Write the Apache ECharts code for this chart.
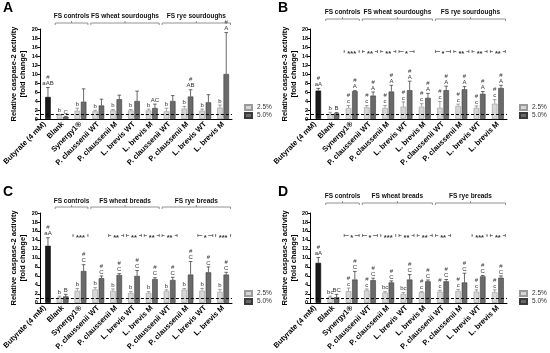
<!DOCTYPE html>
<html><head><meta charset="utf-8">
<script src="https://cdn.jsdelivr.net/npm/echarts@6/dist/echarts.min.js"></script>
<style>html,body{margin:0;padding:0;background:#fff}#c{width:550px;height:353px}</style>
</head><body><div id="c"></div>
<script>
// ---------- data ----------
const categories = ['Butyrate (4 mM)','Blank','Synergy1®','P. claussenii WT','P. claussenii M','L. brevis WT','L. brevis M','P. claussenii WT','P. claussenii M','L. brevis WT','L. brevis M'];
const groupSpans = [[1,2],[3,6],[7,10]];
const groupNamesSourdough = ['FS controls','FS wheat sourdoughs','FS rye sourdoughs'];
const groupNamesBread = ['FS controls','FS wheat breads','FS rye breads'];
const seriesNames = ['2.5%','5.0%'];

// Panel A: caspase-2, sourdoughs
const A25 = [null,0.9,1.85,1.7,1.9,1.9,1.9,1.7,2.3,1.85,2.5];
const A25err = [null,1.0,2.4,1.95,2.1,2.1,2.2,2.4,2.8,2.2,3.1];
const A50 = [4.9,0.5,3.85,3.0,4.4,4.0,2.45,4.0,5.0,3.7,10.0];
const A50err = [7.0,0.6,6.7,4.4,5.3,6.2,3.3,5.2,6.5,5.4,19.2];
const A25lab = ['','b','b','b','b','b','b','b','b','b','b'];
const A50lab = ['#\naAB','C','','','','','AC','','#\nAB','','#\nA'];
const Asig = ['','','','','','','','','','',''];

// Panel B: caspase-3, sourdoughs
const B25 = [null,1.1,2.45,2.6,2.45,2.75,2.75,2.5,2.9,2.5,3.4];
const B25err = [null,1.5,3.0,3.0,3.0,3.8,3.4,3.9,3.3,2.9,4.3];
const B50 = [6.3,1.25,6.2,5.2,6.1,6.4,4.7,6.4,6.6,5.6,6.9];
const B50err = [6.8,1.45,6.3,6.0,7.5,8.4,5.7,7.3,7.2,6.1,7.5];
const B25lab = ['','b','#\nc','#\nc','#\nc','#\nc','#\nc','#\nc','#\nc','#\nc','#\nc'];
const B50lab = ['#\naA','B','#\nA','#\nA','#\nA','#\nA','#\nA','#\nA','#\nA','#\nA','#\nA'];
const Bsig = ['','','***','**','**','*','','*','**','**','**'];

// Panel C: caspase-2, breads
const C25 = [null,1.2,2.7,3.0,2.65,2.2,2.2,2.65,2.95,2.7,2.45];
const C25err = [null,1.5,3.2,3.4,3.1,2.5,2.5,2.9,3.2,3.2,3.0];
const C50 = [12.7,1.45,7.1,5.5,6.2,6.0,5.3,5.1,6.3,6.8,6.3];
const C50err = [14.5,1.9,8.5,6.0,6.5,7.2,5.6,5.7,9.2,8.0,6.8];
const C25lab = ['','b','b','b','b','b','b','b','b','b','b'];
const C50lab = ['#\naA','B','#\nC','#\nC','#\nC','#\nC','#\nC','#\nC','#\nC','#\nC','#\nC'];
const Csig = ['','','***','','**','**','**','**','','*','***'];

// Panel D: caspase-3, breads
const D25 = [null,1.25,2.6,2.8,2.3,2.0,2.35,2.5,2.65,2.5,2.4];
const D25err = [null,1.5,3.3,3.1,2.5,2.3,2.5,2.8,3.0,2.9,2.9];
const D50 = [8.9,1.25,5.2,5.05,4.55,5.2,4.8,4.8,4.55,5.9,5.6];
const D50err = [10.1,1.9,7.0,5.5,4.9,6.3,5.1,5.2,6.6,6.1,6.0];
const D25lab = ['','bc','#\nc','#\nc','bc','bc','#\nc','#\nc','#\nc','#\nc','#\nc'];
const D50lab = ['#\naA','BC','#\nC','#\nC','#\nC','#\nC','#\nC','#\nC','#\nC','#\nC','#\nC'];
const Dsig = ['','','*','*','***','**','**','**','','***','**'];

const sigLevel = 15;
const controlLevel = 1;

// ---------- styling / layout ----------
const FONT = 'Liberation Sans';
const C_LIGHT = '#d6d6d6', C_LIGHT_B = '#9a9a9a';
const C_DARK = '#6a6a6a', C_DARK_B = '#3a3a3a';
const C_BUT = '#1b1b1b';

const panels = [
  {letter:'A', yName:'Relative caspase-2 activity\n[fold change]', grid:{left:31, top:29, width:201, height:90},
   groups:groupNamesSourdough, bOff:6, tOff:13, legendTop:104, legendLeft:244,
   v25:A25, e25:A25err, v50:A50, e50:A50err, l25:A25lab, l50:A50lab, sig:Asig},
  {letter:'B', yName:'Relative caspase-3 activity\n[fold change]', grid:{left:306, top:29, width:201, height:90},
   groups:groupNamesSourdough, bOff:10, tOff:17, legendTop:104, legendLeft:519,
   v25:B25, e25:B25err, v50:B50, e50:B50err, l25:B25lab, l50:B50lab, sig:Bsig},
  {letter:'C', yName:'Relative caspase-2 activity\n[fold change]', grid:{left:31, top:213, width:201, height:91},
   groups:groupNamesBread, bOff:6, tOff:12, legendTop:290, legendLeft:244,
   v25:C25, e25:C25err, v50:C50, e50:C50err, l25:C25lab, l50:C50lab, sig:Csig},
  {letter:'D', yName:'Relative caspase-3 activity\n[fold change]', grid:{left:306, top:213, width:201, height:91},
   groups:groupNamesBread, bOff:10, tOff:17, legendTop:290, legendLeft:519,
   v25:D25, e25:D25err, v50:D50, e50:D50err, l25:D25lab, l50:D50lab, sig:Dsig}
];

const BAR_W = 5.5, HALF_OFF = 3.16;

function errRender(labels, side, color){
  return function(params, api){
    const idx = api.value(0), top = api.value(1), val = api.value(2);
    const pT = api.coord([idx, top]);
    const pV = api.coord([idx, val]);
    const x = pT[0] + side*HALF_OFF;
    const ch = [
      {type:'line', shape:{x1:x, y1:pV[1], x2:x, y2:pT[1]}, style:{stroke:color, lineWidth:0.8}},
      {type:'line', shape:{x1:x-1.8, y1:pT[1], x2:x+1.8, y2:pT[1]}, style:{stroke:color, lineWidth:0.8}}
    ];
    const lab = labels[idx];
    if (lab) ch.push({type:'text', x:x, y:pT[1]-1, style:{text:lab, align:'center', verticalAlign:'bottom',
      fontSize:6, lineHeight:6, fill:'#333', fontFamily:FONT}});
    return {type:'group', children:ch};
  };
}
function sigRender(labels){
  return function(params, api){
    const idx = api.value(0);
    const p = api.coord([idx, api.value(1)]);
    const half = 7.5, gap = labels[idx].length*2 + 1;
    const st = {stroke:'#444', lineWidth:0.7};
    return {type:'group', children:[
      {type:'line', shape:{x1:p[0]-half, y1:p[1], x2:p[0]-gap, y2:p[1]}, style:st},
      {type:'line', shape:{x1:p[0]+gap, y1:p[1], x2:p[0]+half, y2:p[1]}, style:st},
      {type:'line', shape:{x1:p[0]-half, y1:p[1]-1.5, x2:p[0]-half, y2:p[1]+1.5}, style:st},
      {type:'line', shape:{x1:p[0]+half, y1:p[1]-1.5, x2:p[0]+half, y2:p[1]+1.5}, style:st},
      {type:'text', x:p[0], y:p[1]+2.2, style:{text:labels[idx], align:'center', verticalAlign:'middle',
        fontSize:7.5, fill:'#333', fontFamily:FONT, fontWeight:'bold'}}
    ]};
  };
}
function groupRender(names, bOff, tOff){
  return function(params, api){
    const a = api.value(0), b = api.value(1);
    const p1 = api.coord([a, 20]), p2 = api.coord([b, 20]);
    const band = api.size([1,0])[0];
    const x1 = p1[0]-band/2+1.5, x2 = p2[0]+band/2-1.5, y = p1[1]-bOff, xm=(x1+x2)/2;
    const st = {stroke:'#777', lineWidth:0.8};
    return {type:'group', children:[
      {type:'line', shape:{x1:x1, y1:y, x2:x2, y2:y}, style:st},
      {type:'line', shape:{x1:x1, y1:y, x2:x1, y2:y+2}, style:st},
      {type:'line', shape:{x1:x2, y1:y, x2:x2, y2:y+2}, style:st},
      {type:'line', shape:{x1:xm, y1:y, x2:xm, y2:y-2}, style:st},
      {type:'text', x:xm, y:p1[1]-tOff, style:{text:names[params.dataIndex], align:'center', verticalAlign:'middle',
        fontSize:6.5, fontWeight:'bold', fill:'#111', fontFamily:FONT}}
    ]};
  };
}

const option = {animation:false, backgroundColor:'#fff',
  textStyle:{fontFamily:FONT},
  title:[], grid:[], xAxis:[], yAxis:[], series:[], legend:[]};

panels.forEach((P, i) => {
  option.title.push({text:P.letter, left:P.grid.left-28, top:P.grid.top-28, padding:0,
    textStyle:{fontSize:14, fontWeight:'bold', color:'#000', fontFamily:FONT}});
  option.grid.push(P.grid);
  option.xAxis.push({type:'category', gridIndex:i, data:categories,
    axisLine:{lineStyle:{color:'#000', width:1}},
    axisTick:{length:2.5, lineStyle:{color:'#000'}},
    axisLabel:{rotate:45, fontSize:7.5, fontWeight:'bold', color:'#000', margin:4, interval:0, fontFamily:FONT}});
  option.yAxis.push({type:'value', gridIndex:i, min:0, max:20, interval:2, offset:-4,
    name:P.yName, nameLocation:'middle', nameGap:10, nameRotate:90,
    nameTextStyle:{fontSize:7.5, fontWeight:'bold', color:'#000', lineHeight:9, fontFamily:FONT},
    splitLine:{show:false},
    axisLine:{show:true, lineStyle:{color:'#000', width:1}},
    axisTick:{show:true, length:2.5, lineStyle:{color:'#000'}},
    axisLabel:{fontSize:5.5, fontWeight:'bold', color:'#000', margin:2, fontFamily:FONT}});
  option.legend.push({orient:'vertical', left:P.legendLeft, top:P.legendTop, itemWidth:7, itemHeight:5,
    itemGap:1, icon:'rect', data:seriesNames, selectedMode:false, padding:0,
    textStyle:{fontSize:6.5, color:'#333', lineHeight:7, fontFamily:FONT}});
  option.series.push({name:'2.5%', type:'bar', xAxisIndex:i, yAxisIndex:i, barWidth:BAR_W, barGap:'15%',
    data:P.v25.map(v => v==null ? '-' : v),
    itemStyle:{color:C_LIGHT, borderColor:C_LIGHT_B, borderWidth:0.6},
    markLine:{silent:true, symbol:'none', label:{show:false},
      lineStyle:{color:'#000', type:[3,2], width:1}, data:[{yAxis:controlLevel}]}});
  option.series.push({name:'5.0%', type:'bar', xAxisIndex:i, yAxisIndex:i, barWidth:BAR_W, barGap:'15%',
    data:P.v50.map((v,k) => k===0 ? {value:v, itemStyle:{color:C_BUT, borderColor:'#000'}} : v),
    itemStyle:{color:C_DARK, borderColor:C_DARK_B, borderWidth:0.6}});
  const e25 = [], e50 = [];
  P.v25.forEach((v,k) => { if (v!=null) e25.push([k, P.e25[k], v]); });
  P.v50.forEach((v,k) => { if (v!=null) e50.push([k, P.e50[k], v]); });
  option.series.push({type:'custom', xAxisIndex:i, yAxisIndex:i, clip:false, z:5,
    renderItem:errRender(P.l25, -1, '#8a8a8a'), encode:{x:0, y:1}, data:e25});
  option.series.push({type:'custom', xAxisIndex:i, yAxisIndex:i, clip:false, z:5,
    renderItem:errRender(P.l50, 1, '#444'), encode:{x:0, y:1}, data:e50});
  const sd = [];
  P.sig.forEach((s,k) => { if (s) sd.push([k, sigLevel]); });
  if (sd.length) option.series.push({type:'custom', xAxisIndex:i, yAxisIndex:i, clip:false, z:5,
    renderItem:sigRender(P.sig), encode:{x:0, y:1}, data:sd});
  option.series.push({type:'custom', xAxisIndex:i, yAxisIndex:i, clip:false, z:5,
    renderItem:groupRender(P.groups, P.bOff, P.tOff), encode:{x:[0,1]},
    data:groupSpans.map(g => [g[0], g[1]])});
});

const chart = echarts.init(document.getElementById('c'), null, {renderer:'canvas'});
chart.setOption(option);
</script></body></html>
